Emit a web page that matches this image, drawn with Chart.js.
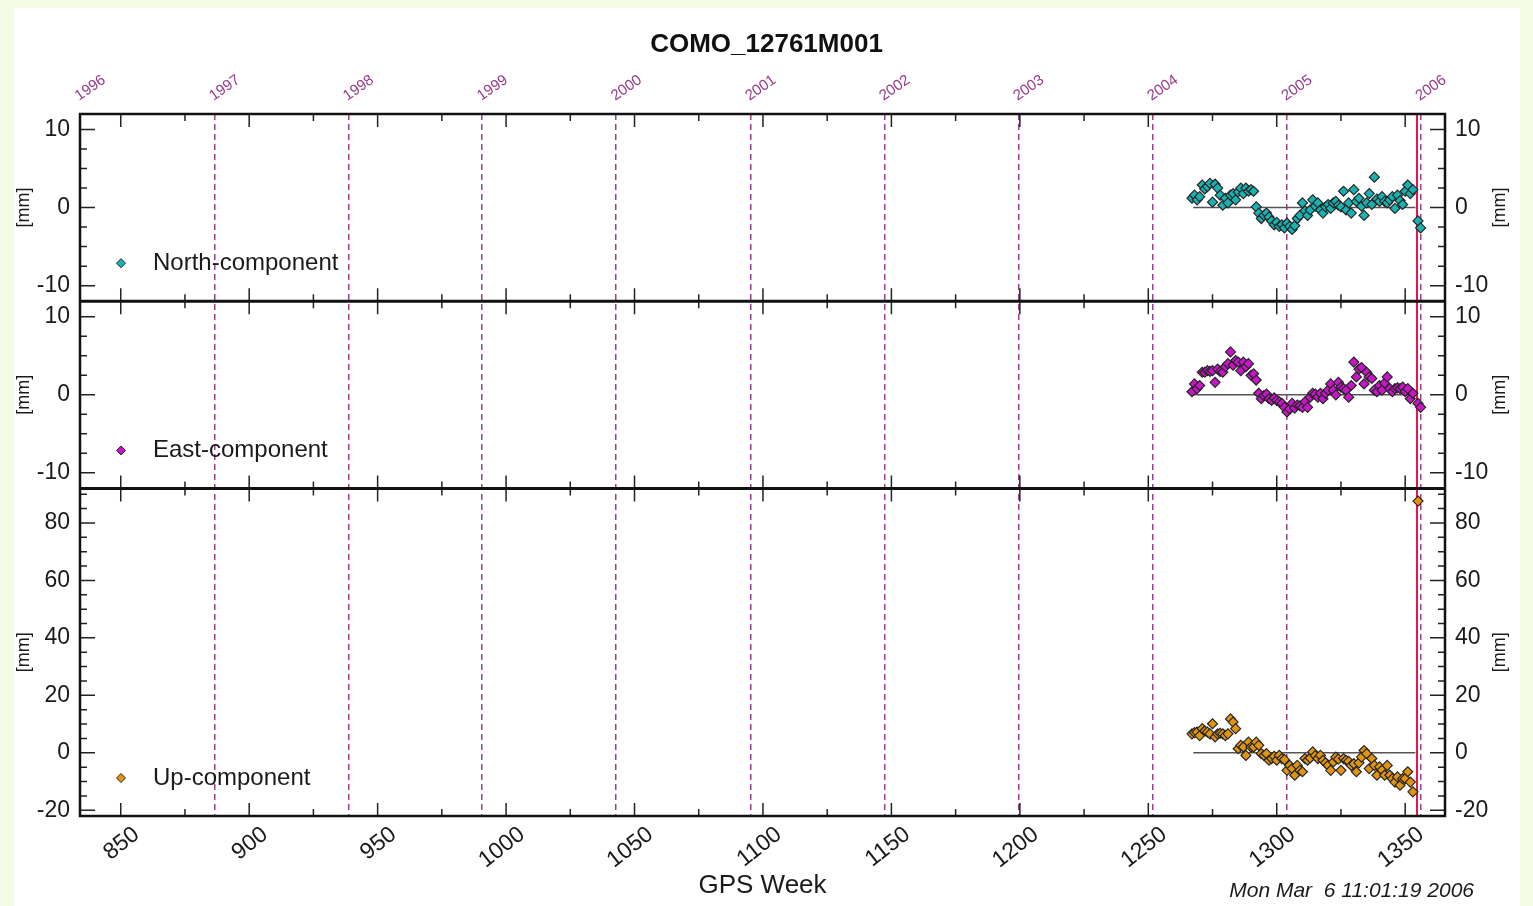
<!DOCTYPE html>
<html lang="en">
<head>
<meta charset="UTF-8">
<title>COMO_12761M001</title>
<style>
  html, body { margin: 0; padding: 0; background: #f3fbe4; }
  #gpsChart { display: block; }
</style>
</head>
<body>
<canvas id="gpsChart" width="1533" height="906"></canvas>
<script src="https://cdn.jsdelivr.net/npm/chart.js@4.4.0/dist/chart.umd.min.js"></script>
<script>
// weekly station solutions (GPS week) and residuals in mm
const weeks = [
  1267, 1268, 1269, 1270, 1271, 1272, 1273, 1274, 1275, 1276,
  1277, 1278, 1279, 1280, 1281, 1282, 1283, 1284, 1285, 1286,
  1287, 1288, 1289, 1290, 1291, 1292, 1293, 1294, 1295, 1296,
  1297, 1298, 1299, 1300, 1301, 1302, 1303, 1304, 1305, 1306,
  1307, 1308, 1309, 1310, 1311, 1312, 1313, 1314, 1315, 1316,
  1317, 1318, 1319, 1320, 1321, 1322, 1323, 1324, 1325, 1326,
  1327, 1328, 1329, 1330, 1331, 1332, 1333, 1334, 1335, 1336,
  1337, 1338, 1339, 1340, 1341, 1342, 1343, 1344, 1345, 1346,
  1347, 1348, 1349, 1350, 1351, 1352, 1353,
  1355, 1356
];
const north = [
  1.2, 1.6, 1.0, 1.4, 2.9, 2.4, 2.7, 3.1, 0.7, 3.0,
  2.5, 1.6, 0.3, 1.2, 0.6, 1.6, 1.8, 1.0, 2.0, 2.5,
  1.8, 2.5, 2.1, 2.3, 2.1, 0.1, -0.7, -1.4, -1.0, -0.7,
  -1.2, -1.7, -2.2, -1.9, -2.4, -2.2, -2.6, -2.0, -2.4, -2.8,
  -2.3, -1.4, -1.0, 0.6, -0.4, -1.0, -0.3, 1.0, 0.2, 0.6,
  -0.3, -0.7, 0.1, 0.4, -0.1, 0.6, 0.8, 0.3, 0.1, 2.1,
  -0.3, 0.6, -0.7, 2.3, 0.8, 1.2, 0.2, -1.0, 0.6, 1.8,
  0.4, 3.9, 1.1, 0.8, 1.4, 0.8, 0.6, 1.0, 1.4, -0.1,
  1.6, 0.9, 0.4, 2.1, 2.9, 1.8, 2.3,
  -1.7, -2.6
];
const east = [
  0.4, 1.4, 0.8, 1.2, 2.9, 2.9, 3.1, 3.0, 3.1, 1.6,
  3.3, 3.0, 2.9, 3.6, 4.0, 5.5, 3.8, 4.4, 4.2, 3.1,
  4.2, 3.6, 4.0, 2.5, 2.7, 1.9, 0.2, -0.5, -0.1, 0.1,
  -0.5, -0.7, -0.4, -0.7, -0.9, -1.1, -1.6, -2.2, -1.8, -1.1,
  -1.7, -1.3, -1.4, -1.6, -0.9, -1.6, -0.3, 0.2, 0.1, -0.3,
  0.2, -0.5, 0.2, 0.6, 1.4, 0.6, 0.0, 1.6, 1.0, 0.8,
  0.6, -0.3, 1.2, 4.2, 2.3, 3.3, 3.5, 1.4, 2.9, 2.3,
  2.1, 0.6, 0.4, 1.2, 0.6, 1.5, 2.3, 0.8, 0.4, 0.8,
  0.9, 0.8, 1.0, 0.4, 0.8, -0.5, 0.2,
  -1.1, -1.6
];
const up = [
  6.6, 7.0, 7.2, 6.0, 8.4, 7.6, 7.2, 6.6, 10.1, 5.5,
  6.6, 6.8, 6.6, 6.0, 6.6, 11.8, 10.7, 8.4, 1.4, 2.6,
  2.0, -0.9, 3.7, 2.0, 2.0, 3.7, 2.6, -0.3, -0.9, -0.3,
  -2.6, -2.0, -1.2, -2.6, -0.9, -2.0, -2.4, -6.1, -4.4, -5.5,
  -7.8, -4.4, -6.1, -6.6, -2.0, -2.6, -1.8, 0.3, -1.0, -2.0,
  -0.9, -2.6, -3.5, -4.4, -6.1, -3.2, -1.5, -2.2, -6.1, -2.0,
  -2.6, -3.0, -4.4, -3.8, -6.6, -3.5, -1.5, 0.8, -0.3, -5.5,
  -2.0, -4.4, -7.8, -4.9, -6.0, -7.8, -4.4, -7.8, -9.0, -10.2,
  -8.4, -11.3, -9.0, -9.0, -6.6, -10.2, -13.6,
  87.6, null
];

// mean line span and equipment change (GPS weeks)
const meanSpan = [1267.5, 1354];
const changeWeek = 1354.6;

// axis ranges and ticks
const weekRange = [834.14, 1365.5];
const weekTicks = [850, 900, 950, 1000, 1050, 1100, 1150, 1200, 1250, 1300, 1350];
const weekMinor = [875, 925, 975, 1025, 1075, 1125, 1175, 1225, 1275, 1325];
const yearWeeks = [834.14, 886.43, 938.57, 990.71, 1042.86, 1095.14, 1147.29, 1199.43, 1251.57, 1303.86, 1356.0];
const yearLabels = ['1996', '1997', '1998', '1999', '2000', '2001', '2002', '2003', '2004', '2005', '2006'];
const horizRange = [-12, 12];
const horizTicks = [-10, 0, 10];
const horizMinor = [-7.5, -5, -2.5, 2.5, 5, 7.5];
const upRange = [-22, 92];
const upTicks = [-20, 0, 20, 40, 60, 80];
const upMinor = [-15, -10, -5, 5, 10, 15, 25, 30, 35, 45, 50, 55, 65, 70, 75, 85, 90];

const stationName = 'COMO_12761M001';
const stamp = 'Mon Mar  6 11:01:19 2006';

const FONT = '"Liberation Sans", Arial, Helvetica, sans-serif';
Chart.defaults.font.family = FONT;
Chart.defaults.color = '#1a1a1a';

const panels = [
  { axis: 'yN', ds: 0, major: horizTicks, minor: horizMinor },
  { axis: 'yE', ds: 1, major: horizTicks, minor: horizMinor },
  { axis: 'yU', ds: 2, major: upTicks, minor: upMinor }
];

function pts(series) {
  return weeks.map((w, i) => ({ x: w, y: series[i] }));
}

function marker(fill) {
  return {
    pointStyle: 'rectRot',
    pointRadius: 5,
    pointBackgroundColor: fill,
    pointBorderColor: '#262626',
    pointBorderWidth: 1.2
  };
}

function meanLine(axis) {
  return {
    type: 'line',
    data: [{ x: meanSpan[0], y: 0 }, { x: meanSpan[1], y: 0 }],
    yAxisID: axis,
    borderColor: '#555555',
    borderWidth: 1.5,
    pointRadius: 0
  };
}

function yAxis(pos, stack, weight, range, ticks, width) {
  return {
    type: 'linear',
    position: pos,
    stack: stack,
    stackWeight: weight,
    min: range[0],
    max: range[1],
    afterBuildTicks: s => { s.ticks = ticks.map(v => ({ value: v })); },
    afterFit: s => { s.width = width; },
    grid: { display: false, drawTicks: false },
    border: { display: false },
    ticks: { padding: 10, font: { size: 23 }, color: '#1a1a1a' }
  };
}

const frame = {
  id: 'frame',
  beforeDraw(chart) {
    const { ctx, width, height } = chart;
    ctx.save();
    ctx.fillStyle = '#f3fbe4';
    ctx.fillRect(0, 0, width, height);
    ctx.fillStyle = '#ffffff';
    ctx.fillRect(14, 8, 1506, height - 8);
    ctx.restore();
  },
  beforeDatasetsDraw(chart) {
    const { ctx, chartArea } = chart;
    const px = chart.scales.x.getPixelForValue(changeWeek);
    ctx.save();
    ctx.strokeStyle = '#e3174b';
    ctx.lineWidth = 2;
    ctx.beginPath();
    ctx.moveTo(px, chartArea.top);
    ctx.lineTo(px, chartArea.bottom);
    ctx.stroke();
    ctx.restore();
  },
  afterDatasetsDraw(chart) {
    const { ctx, chartArea } = chart;
    const x = chart.scales.x;
    const left = chartArea.left, right = chartArea.right;
    ctx.save();
    ctx.strokeStyle = '#222';
    ctx.lineWidth = 1.5;
    panels.forEach(p => {
      const s = chart.scales[p.axis];
      const top = s.top, bottom = s.bottom;
      ctx.beginPath();
      weekTicks.forEach(v => {
        const px = x.getPixelForValue(v);
        ctx.moveTo(px, top); ctx.lineTo(px, top + 13);
        ctx.moveTo(px, bottom); ctx.lineTo(px, bottom - 13);
      });
      weekMinor.forEach(v => {
        const px = x.getPixelForValue(v);
        ctx.moveTo(px, top); ctx.lineTo(px, top + 7);
        ctx.moveTo(px, bottom); ctx.lineTo(px, bottom - 7);
      });
      p.major.forEach(v => {
        const py = s.getPixelForValue(v);
        ctx.moveTo(left, py); ctx.lineTo(left + 15, py);
        ctx.moveTo(right, py); ctx.lineTo(right - 15, py);
      });
      p.minor.forEach(v => {
        const py = s.getPixelForValue(v);
        ctx.moveTo(left, py); ctx.lineTo(left + 7, py);
        ctx.moveTo(right, py); ctx.lineTo(right - 7, py);
      });
      ctx.stroke();

      // per-panel legend
      const ds = chart.data.datasets[p.ds];
      const ly = bottom - 38;
      ctx.fillStyle = ds.pointBackgroundColor;
      ctx.strokeStyle = '#262626';
      ctx.lineWidth = 1;
      ctx.beginPath();
      ctx.moveTo(left + 41, ly - 4.5);
      ctx.lineTo(left + 45.5, ly);
      ctx.lineTo(left + 41, ly + 4.5);
      ctx.lineTo(left + 36.5, ly);
      ctx.closePath();
      ctx.fill();
      ctx.stroke();
      ctx.fillStyle = '#1a1a1a';
      ctx.font = '24px ' + FONT;
      ctx.textAlign = 'left';
      ctx.textBaseline = 'middle';
      ctx.fillText(ds.label, left + 73, ly);

      // unit labels both sides
      ctx.font = '18px ' + FONT;
      ctx.textAlign = 'center';
      [24, 1500].forEach(tx => {
        ctx.save();
        ctx.translate(tx, (top + bottom) / 2);
        ctx.rotate(-Math.PI / 2);
        ctx.fillText('[mm]', 0, 0);
        ctx.restore();
      });
      ctx.strokeStyle = '#222';
      ctx.lineWidth = 1.5;
    });

    // frame and panel separators
    ctx.strokeStyle = '#111';
    ctx.lineWidth = 2.5;
    ctx.strokeRect(left, chartArea.top, right - left, chartArea.bottom - chartArea.top);
    ctx.lineWidth = 3;
    ctx.beginPath();
    [chart.scales.yN.bottom, chart.scales.yE.bottom].forEach(y => {
      ctx.moveTo(left, y); ctx.lineTo(right, y);
    });
    ctx.stroke();

    // time stamp
    ctx.fillStyle = '#1a1a1a';
    ctx.font = 'italic 21px ' + FONT;
    ctx.textAlign = 'right';
    ctx.textBaseline = 'middle';
    ctx.fillText(stamp, 1474, 891);
    ctx.restore();
  }
};

new Chart(document.getElementById('gpsChart'), {
  type: 'scatter',
  data: {
    datasets: [
      { label: 'North-component', data: pts(north), yAxisID: 'yN', ...marker('#17b3b3') },
      { label: 'East-component', data: pts(east), yAxisID: 'yE', ...marker('#c914c9') },
      { label: 'Up-component', data: pts(up), yAxisID: 'yU', ...marker('#e3940f') },
      meanLine('yN'),
      meanLine('yE'),
      meanLine('yU')
    ]
  },
  options: {
    responsive: false,
    animation: false,
    layout: { padding: 0 },
    plugins: {
      legend: { display: false },
      tooltip: { enabled: false },
      title: {
        display: true,
        text: stationName,
        font: { size: 26, weight: 'bold' },
        color: '#111',
        padding: { top: 29, bottom: 0 }
      }
    },
    scales: {
      x: {
        type: 'linear',
        position: 'bottom',
        min: weekRange[0],
        max: weekRange[1],
        afterBuildTicks: s => { s.ticks = weekTicks.map(v => ({ value: v })); },
        afterFit: s => { s.height = 90; },
        grid: { display: false, drawTicks: false },
        border: { display: false },
        ticks: {
          autoSkip: false,
          minRotation: 38,
          maxRotation: 38,
          labelOffset: 16,
          padding: 5,
          font: { size: 23 },
          color: '#1a1a1a',
          callback: v => String(v)
        },
        title: {
          display: true,
          text: 'GPS Week',
          font: { size: 26 },
          color: '#1a1a1a',
          padding: { top: 0, bottom: 5 }
        }
      },
      xYear: {
        type: 'linear',
        position: 'top',
        min: weekRange[0],
        max: weekRange[1],
        afterBuildTicks: s => { s.ticks = yearWeeks.map(v => ({ value: v })); },
        afterFit: s => { s.height = 53.8; },
        grid: { display: true, drawOnChartArea: true, drawTicks: false, color: '#9c3f8c', lineWidth: 1.5 },
        border: { display: false, dash: [6, 4] },
        ticks: {
          autoSkip: false,
          minRotation: 35,
          maxRotation: 35,
          labelOffset: 7,
          padding: 9,
          font: { size: 15 },
          color: '#963a8a',
          callback: (v, i) => yearLabels[i]
        }
      },
      yU: yAxis('left', 'L', 328, upRange, upTicks, 80),
      yE: yAxis('left', 'L', 187.5, horizRange, horizTicks, 80),
      yN: yAxis('left', 'L', 187.5, horizRange, horizTicks, 80),
      yNr: yAxis('right', 'R', 187.5, horizRange, horizTicks, 88),
      yEr: yAxis('right', 'R', 187.5, horizRange, horizTicks, 88),
      yUr: yAxis('right', 'R', 328, upRange, upTicks, 88)
    }
  },
  plugins: [frame]
});
</script>
</body>
</html>
